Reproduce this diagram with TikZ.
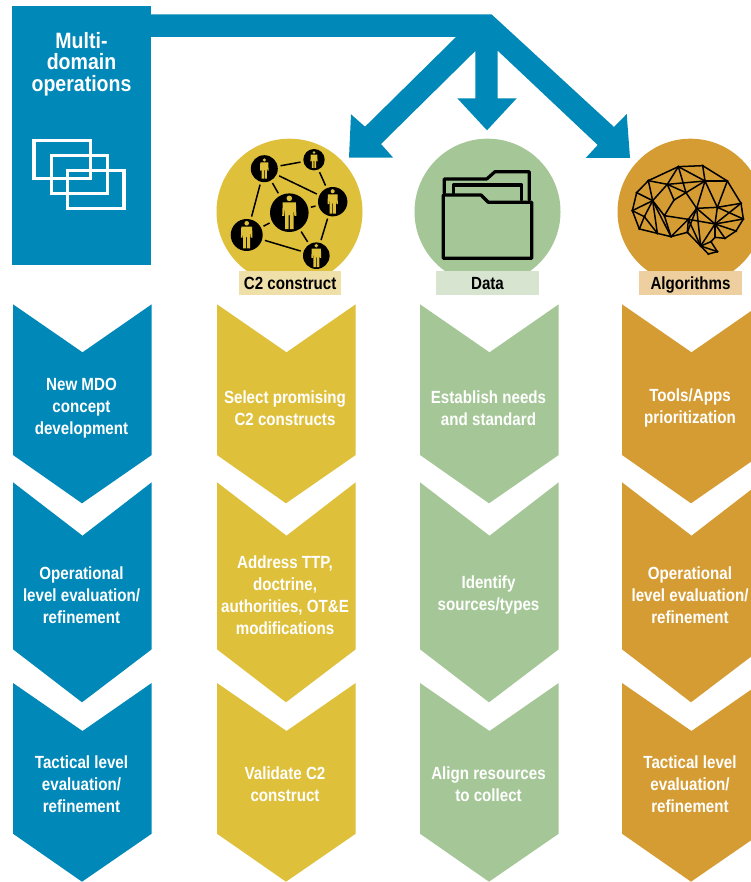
\documentclass[tikz,border=0pt]{standalone}
\usepackage{fontspec}
\setmainfont[FakeStretch=0.86]{Liberation Sans}
\newfontfamily\titlefam[FakeStretch=0.88]{Liberation Sans}
\definecolor{mdoblue}{HTML}{0088B8}
\definecolor{ctwo}{HTML}{DFC03B}
\definecolor{datag}{HTML}{A5C797}
\definecolor{algo}{HTML}{D59C33}
\definecolor{ctwol}{HTML}{EEE0A8}
\definecolor{datal}{HTML}{D6E4D0}
\definecolor{algol}{HTML}{EDCFA0}
\newcommand{\chevshape}[2]{%
  \fill[#2] (#1,304.3) -- (#1+69.5,352.3) -- (#1+138.7,304.3) -- (#1+138.7,455) -- (#1+69,503.3) -- (#1,455) -- cycle;
  \fill[#2] (#1,482.3) -- (#1+69.5,535.7) -- (#1+138.7,482.3) -- (#1+138.7,649.3) -- (#1+69,702.3) -- (#1,649.3) -- cycle;
  \fill[#2] (#1,683) -- (#1+69.5,731) -- (#1+138.7,683) -- (#1+138.7,833.7) -- (#1+69,881.7) -- (#1,833.7) -- cycle;
}
\tikzset{
  x=1pt,y=-1pt,
  steptext/.style={text=white,align=center,inner sep=0pt,font=\bfseries\fontsize{17.6}{22}\selectfont},
  titletext/.style={text=white,align=center,inner sep=0pt,font=\titlefam\bfseries\fontsize{22.2}{21.5}\selectfont},
  tagbox/.style={minimum width=102.4pt,minimum height=24pt,inner sep=0pt,text height=14pt,text depth=1.4pt,text=black,font=\bfseries\fontsize{17.6}{20}\selectfont},
  framebox/.style={draw=white,line width=3.3pt,fill=none},
  hub/.style={circle,fill=black,inner sep=0pt,outer sep=3pt},
  hublink/.style={draw=black,line width=1.5pt},
  brainline/.style={draw=black,line width=1.5pt,line join=round},
  foldline/.style={draw=black,line width=3.2pt,line join=round,line cap=round},
  manfig/.pic={
    \fill[ctwo] (0,-8.7) circle (1.7);
    \fill[ctwo] (-4,-6.2) -- (4,-6.2) -- (4.3,2) -- (3.1,2) -- (2.6,-3) -- (2.6,10) -- (0.35,10) -- (0.35,1.5) -- (-0.35,1.5) -- (-0.35,10) -- (-2.6,10) -- (-2.6,-3) -- (-3.1,2) -- (-4.3,2) -- cycle;
  }
}
\begin{document}
\begin{tikzpicture}
\useasboundingbox (0,0) rectangle (751,882);
\clip (0,0) rectangle (751,882);
\fill[white] (0,0) rectangle (751,882);

% chevrons
\chevshape{13}{mdoblue}
\chevshape{217}{ctwo}
\chevshape{420}{datag}
\chevshape{622}{algo}

% source box and branching arrow
\fill[mdoblue] (12.3,6) rectangle (150.7,265);
\fill[mdoblue] (150,14.5) -- (491.7,14.5) -- (614,127) -- (626.7,114) -- (630,158) -- (585.7,158) -- (597.7,145)
  -- (497.7,50.7) -- (497.7,98.3) -- (516.7,98.3) -- (487,130.3) -- (457.3,98.3) -- (475.3,98.3) -- (475.3,51)
  -- (381,144) -- (393,157.5) -- (349,157.7) -- (351,114.3) -- (365,126.7) -- (456,37) -- (150,37) -- cycle;
\node[titletext] (mdo) at (81.5,64) {Multi-\\domain\\operations};
\draw[framebox] (34,140.7) rectangle (90.3,178.6);
\draw[framebox] (51.4,155.4) rectangle (107.6,193.3);
\draw[framebox] (67.4,170.4) rectangle (124,208.3);

% circles
\fill[ctwo] (289.5,211.7) circle (73);
\fill[datag] (487.5,211.7) circle (73);
\fill[algo] (690.5,211.7) circle (73);

% C2 network
\node[hub,minimum size=27pt] (pa) at (264.3,168.7) {};
\node[hub,minimum size=21.4pt] (pb) at (314,159.7) {};
\node[hub,minimum size=29.4pt] (pc) at (332.7,201.7) {};
\node[hub,minimum size=38.6pt] (pd) at (289.3,212.7) {};
\node[hub,minimum size=32pt] (pe) at (246.7,235) {};
\node[hub,minimum size=26.6pt] (pf) at (316.3,255.7) {};
\foreach \u/\v in {pa/pb,pa/pc,pa/pd,pa/pe,pb/pc,pc/pd,pc/pf,pd/pe,pd/pf,pe/pf}
  \draw[hublink] (\u) -- (\v);
\pic[scale=1.0] at (pa) {manfig};
\pic[scale=0.83] at (pb) {manfig};
\pic[scale=1.2] at (pc) {manfig};
\pic[scale=1.65] at (pd) {manfig};
\pic[scale=1.35] at (pe) {manfig};
\pic[scale=1.15] at (pf) {manfig};

% folder
\draw[foldline] (444.3,193.3) -- (444.3,179) -- (486.7,179) -- (495,171.7) -- (529.3,171.7) -- (529.3,200);
\draw[foldline] (453.3,193) -- (453.3,185) -- (521.7,185) -- (521.7,200);
\draw[foldline] (443.3,195) -- (481,195) -- (488.3,202.3) -- (531.7,202.3) -- (531.7,258.3) -- (443.3,258.3) -- cycle;

% brain
\begin{scope}[shift={(610,150)},scale=1/3]
\foreach \n/\p/\q in {a/67/182,b/80/128,c/115/92,d/205/50,e/278/47,f/352/93,g/393/160,h/400/207,i/378/243,j/345/265,k/315/262,l/303/275,m/322/305,n/295/312,o/272/288,p/232/247,q/183/260,r/142/250,s/88/237,t/128/152,u/172/103,v/285/93,w/228/128,x/322/172,y/260/175,z/163/197,A/235/208,B/315/222,C/103/200,D/192/150}
  \coordinate (b\n) at (\p,\q);
\foreach \u/\v in {a/b,b/c,c/d,d/e,e/f,f/g,g/h,h/i,i/j,j/k,k/l,l/m,m/n,n/o,o/p,p/q,q/r,r/s,s/a,
  c/u,u/d,d/w,d/v,e/v,u/v,f/v,u/w,w/v,b/t,c/t,a/t,t/u,t/C,a/C,C/s,C/r,t/r,t/q,z/q,z/t,D/z,w/D,u/D,
  z/A,A/y,w/y,y/v,y/x,x/g,v/x,f/x,x/h,x/B,y/B,A/B,A/p,q/A,y/p,B/h,B/i,B/j,B/k,A/o,B/o,o/l,o/m,y/o,g/B}
  \draw[brainline] (b\u) -- (b\v);
\foreach \n in {a,b,c,d,e,f,g,h,i,j,k,l,m,n,o,p,q,r,s,t,u,v,w,x,y,z,A,B,C,D}
  \fill[black] (b\n) circle (4);
\end{scope}

% tags
\node[tagbox,fill=ctwol] (tagc) at (290.2,283) {C2 construct};
\node[tagbox,fill=datal] (tagd) at (487.5,283) {Data};
\node[tagbox,fill=algol] (taga) at (690.5,283) {Algorithms};

% step texts
\node[steptext] (s11) at (81.5,408.5) {New MDO\\concept\\development};
\node[steptext] (s12) at (81.5,594.8) {Operational\\level evaluation/\\refinement};
\node[steptext] (s13) at (81.5,784.5) {Tactical level\\evaluation/\\refinement};
\node[steptext] (s21) at (285,408) {Select promising\\C2 constructs};
\node[steptext] (s22) at (285,595) {Address TTP,\\doctrine,\\authorities, OT\&E\\modifications};
\node[steptext] (s23) at (285,784) {Validate C2\\construct};
\node[steptext] (s31) at (488.5,408) {Establish needs\\and standard};
\node[steptext] (s32) at (488.5,595) {Identify\\sources/types};
\node[steptext] (s33) at (488.5,784) {Align resources\\to collect};
\node[steptext] (s41) at (690,408) {Tools/Apps\\prioritization};
\node[steptext] (s42) at (690,594.8) {Operational\\level evaluation/\\refinement};
\node[steptext] (s43) at (690,784.5) {Tactical level\\evaluation/\\refinement};
\end{tikzpicture}
\end{document}
